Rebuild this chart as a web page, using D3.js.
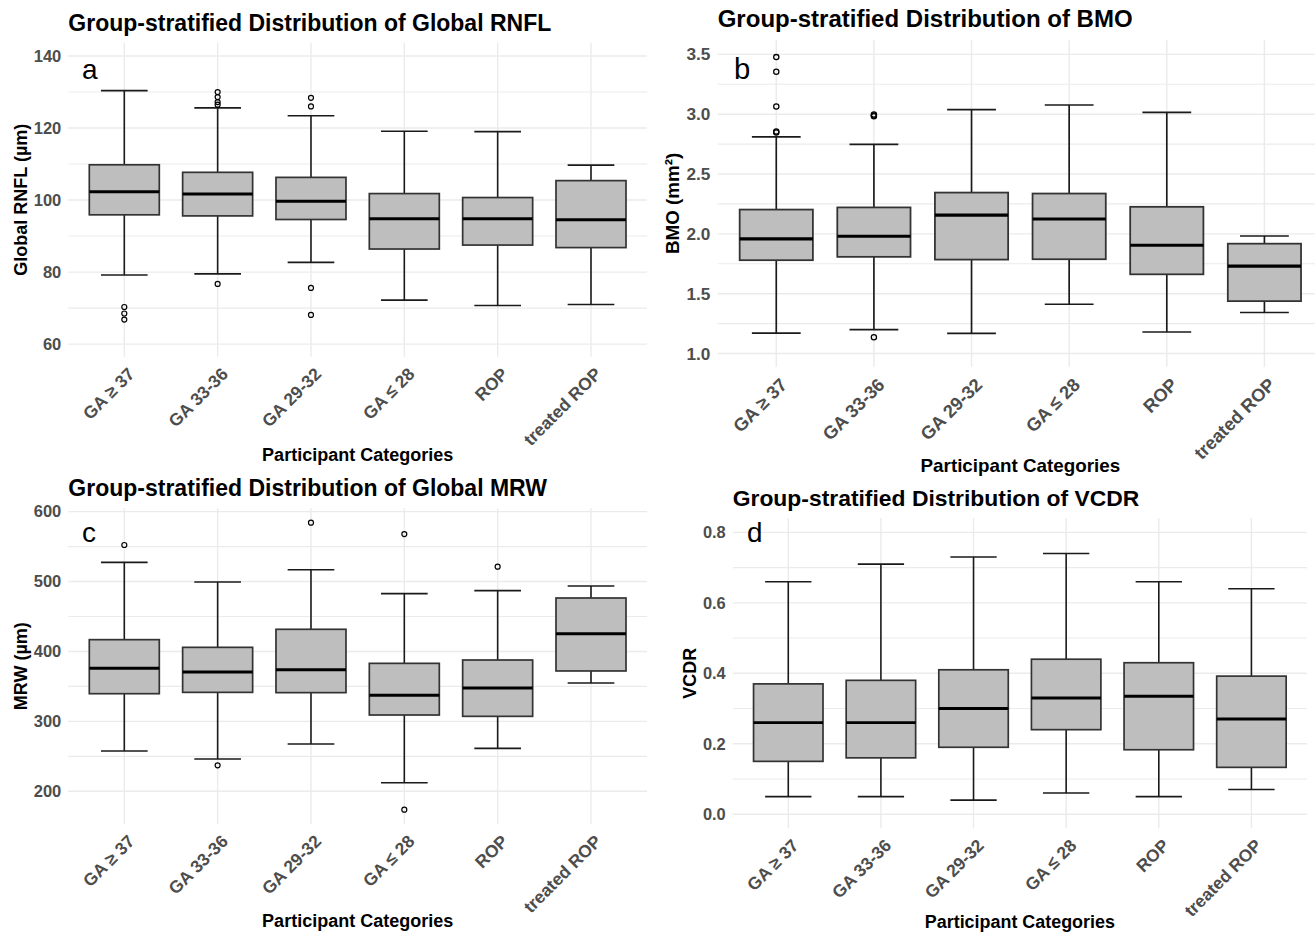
<!DOCTYPE html>
<html lang="en">
<head>
<meta charset="UTF-8" />
<title>Group-stratified Distributions</title>
<script src="https://d3js.org/d3.v7.min.js"></script>
<style>
  body { margin: 0; background: #fff; }
  svg text { font-family: "Liberation Sans", Arial, sans-serif; }
</style>
</head>
<body>
<div id="chart"></div>
<script>
var w = 1315;
var h = 932;

var categories = ["GA ≥ 37", "GA 33-36", "GA 29-32", "GA ≤ 28", "ROP", "treated ROP"];

// a: Global RNFL (µm)
var rnflLow = [79.2, 79.5, 82.7, 72.2, 70.7, 71.0];
var rnflQ1 = [95.9, 95.6, 94.6, 86.4, 87.5, 86.8];
var rnflMedian = [102.3, 101.7, 99.7, 94.8, 94.8, 94.5];
var rnflQ3 = [109.8, 107.7, 106.3, 101.8, 100.7, 105.4];
var rnflHigh = [130.4, 125.6, 123.4, 119.1, 119.0, 109.7];
var rnflOutliers = [[70.3, 68.5, 66.8], [130.0, 128.6, 127.2, 126.5, 76.7], [128.4, 126.0, 75.6, 68.1], [], [], []];
var rnflTicks = [60, 80, 100, 120, 140];
var rnflMinor = [70, 90, 110, 130];

// b: BMO (mm²)
var bmoLow = [1.170, 1.200, 1.168, 1.412, 1.180, 1.343];
var bmoQ1 = [1.780, 1.808, 1.785, 1.788, 1.662, 1.438];
var bmoMedian = [1.958, 1.980, 2.157, 2.124, 1.905, 1.730];
var bmoQ3 = [2.203, 2.221, 2.345, 2.337, 2.226, 1.918];
var bmoHigh = [2.811, 2.748, 3.038, 3.077, 3.015, 1.982];
var bmoOutliers = [[3.477, 3.355, 3.064, 2.855, 2.848], [2.998, 2.990, 2.982, 1.137], [], [], [], []];
var bmoTicks = [1.0, 1.5, 2.0, 2.5, 3.0, 3.5];
var bmoMinor = [1.25, 1.75, 2.25, 2.75, 3.25];

// c: Global MRW (µm)
var mrwLow = [257.6, 246.2, 267.6, 212.3, 261.4, 354.9];
var mrwQ1 = [339.6, 341.5, 341.1, 309.1, 307.2, 372.1];
var mrwMedian = [375.9, 370.6, 374.0, 337.2, 347.7, 425.5];
var mrwQ3 = [416.9, 405.9, 431.7, 383.0, 387.8, 476.5];
var mrwHigh = [527.5, 499.4, 517.0, 482.7, 487.0, 493.7];
var mrwOutliers = [[552.3], [237.1], [584.3], [568.0, 173.7], [521.3], []];
var mrwTicks = [200, 300, 400, 500, 600];
var mrwMinor = [250, 350, 450, 550];

// d: VCDR
var vcdrLow = [0.05, 0.05, 0.04, 0.06, 0.05, 0.07];
var vcdrQ1 = [0.15, 0.16, 0.19, 0.24, 0.183, 0.133];
var vcdrMedian = [0.26, 0.26, 0.30, 0.33, 0.335, 0.27];
var vcdrQ3 = [0.37, 0.38, 0.41, 0.44, 0.43, 0.392];
var vcdrHigh = [0.66, 0.71, 0.73, 0.74, 0.66, 0.64];
var vcdrOutliers = [[], [], [], [], [], []];
var vcdrTicks = [0.0, 0.2, 0.4, 0.6, 0.8];
var vcdrMinor = [0.1, 0.3, 0.5, 0.7];

var panels = [
    { letter: "a", title: "Group-stratified Distribution of Global RNFL", yTitle: "Global RNFL (µm)",
      low: rnflLow, q1: rnflQ1, med: rnflMedian, q3: rnflQ3, high: rnflHigh, out: rnflOutliers,
      ticks: rnflTicks, minor: rnflMinor, fmt: d3.format("d"), domain: [56.5, 143.7],
      left: 68.3, right: 647, top: 42.7, bottom: 356.7, s: 1, lx: 82, ly: 78.7, xty: 461 },
    { letter: "b", title: "Group-stratified Distribution of BMO", yTitle: "BMO (mm²)",
      low: bmoLow, q1: bmoQ1, med: bmoMedian, q3: bmoQ3, high: bmoHigh, out: bmoOutliers,
      ticks: bmoTicks, minor: bmoMinor, fmt: d3.format(".1f"), domain: [0.89, 3.62],
      left: 717.7, right: 1323, top: 40, bottom: 366.7, s: 1.045, lx: 734, ly: 79, xty: 472 },
    { letter: "c", title: "Group-stratified Distribution of Global MRW", yTitle: "MRW (µm)",
      low: mrwLow, q1: mrwQ1, med: mrwMedian, q3: mrwQ3, high: mrwHigh, out: mrwOutliers,
      ticks: mrwTicks, minor: mrwMinor, fmt: d3.format("d"), domain: [153.2, 604.8],
      left: 68.3, right: 647, top: 508.3, bottom: 824, s: 1, lx: 82, ly: 541.7, xty: 927 },
    { letter: "d", title: "Group-stratified Distribution of VCDR", yTitle: "VCDR",
      low: vcdrLow, q1: vcdrQ1, med: vcdrMedian, q3: vcdrQ3, high: vcdrHigh, out: vcdrOutliers,
      ticks: vcdrTicks, minor: vcdrMinor, fmt: d3.format(".1f"), domain: [-0.04, 0.84],
      left: 732.7, right: 1307, top: 518.3, bottom: 828.3, s: 0.995, lx: 747, ly: 541.7, xty: 928 }
];

var svg = d3.select("#chart")
    .append("svg")
    .attr("width", w)
    .attr("height", h)
    .style("display", "block");

svg.append("rect").attr("width", w).attr("height", h).attr("fill", "#fff");

function drawPanel(p) {
    var s = p.s;
    var g = svg.append("g");

    var y = d3.scaleLinear().domain(p.domain).range([p.bottom, p.top]);
    var x = d3.scalePoint().domain(categories).range([p.left, p.right]).padding(0.6);
    var step = x.step();

    // grid
    g.selectAll(".minor").data(p.minor).enter().append("line")
        .attr("x1", p.left).attr("x2", p.right)
        .attr("y1", function (d) { return y(d); }).attr("y2", function (d) { return y(d); })
        .attr("stroke", "#ebebeb").attr("stroke-width", 1.1 * s);
    g.selectAll(".major").data(p.ticks).enter().append("line")
        .attr("x1", p.left).attr("x2", p.right)
        .attr("y1", function (d) { return y(d); }).attr("y2", function (d) { return y(d); })
        .attr("stroke", "#ebebeb").attr("stroke-width", 1.4 * s);
    g.selectAll(".vgrid").data(categories).enter().append("line")
        .attr("x1", function (d) { return x(d); }).attr("x2", function (d) { return x(d); })
        .attr("y1", p.top).attr("y2", p.bottom)
        .attr("stroke", "#ebebeb").attr("stroke-width", 1.4 * s);

    // y axis labels
    var yAxis = g.append("g")
        .attr("transform", "translate(" + p.left + ",0)")
        .call(d3.axisLeft(y).tickValues(p.ticks).tickFormat(p.fmt).tickSize(0).tickPadding(7 * s));
    yAxis.select(".domain").remove();
    yAxis.attr("font-size", null).attr("font-family", null);
    yAxis.selectAll("text")
        .style("font-size", (16.5 * s) + "px")
        .style("font-weight", "bold")
        .attr("fill", "#4d4d4d");

    // x axis labels
    var xAxis = g.append("g")
        .attr("transform", "translate(0," + p.bottom + ")")
        .call(d3.axisBottom(x).tickSize(0));
    xAxis.select(".domain").remove();
    xAxis.attr("font-size", null).attr("font-family", null);
    xAxis.selectAll("text")
        .attr("y", null)
        .attr("dy", "0.72em")
        .attr("text-anchor", "end")
        .attr("transform", "translate(" + (2 * s) + "," + (9.5 * s) + ") rotate(-45)")
        .style("font-size", (17.5 * s) + "px")
        .style("font-weight", "bold")
        .attr("fill", "#4d4d4d");

    // boxes
    var idx = d3.range(categories.length);
    var boxes = g.selectAll(".box").data(idx).enter().append("g");
    var lineCol = "#1a1a1a";

    boxes.append("line")
        .attr("x1", function (i) { return x(categories[i]); })
        .attr("x2", function (i) { return x(categories[i]); })
        .attr("y1", function (i) { return y(p.low[i]); })
        .attr("y2", function (i) { return y(p.high[i]); })
        .attr("stroke", lineCol).attr("stroke-width", 1.6 * s);
    [p.low, p.high].forEach(function (arr) {
        boxes.append("line")
            .attr("x1", function (i) { return x(categories[i]) - step * 0.25; })
            .attr("x2", function (i) { return x(categories[i]) + step * 0.25; })
            .attr("y1", function (i) { return y(arr[i]); })
            .attr("y2", function (i) { return y(arr[i]); })
            .attr("stroke", lineCol).attr("stroke-width", 1.6 * s);
    });
    boxes.append("rect")
        .attr("x", function (i) { return x(categories[i]) - step * 0.375; })
        .attr("width", step * 0.75)
        .attr("y", function (i) { return y(p.q3[i]); })
        .attr("height", function (i) { return y(p.q1[i]) - y(p.q3[i]); })
        .attr("fill", "#bebebe")
        .attr("stroke", "#333333").attr("stroke-width", 1.7 * s);
    boxes.append("line")
        .attr("x1", function (i) { return x(categories[i]) - step * 0.375; })
        .attr("x2", function (i) { return x(categories[i]) + step * 0.375; })
        .attr("y1", function (i) { return y(p.med[i]); })
        .attr("y2", function (i) { return y(p.med[i]); })
        .attr("stroke", "#000").attr("stroke-width", 3 * s);

    boxes.each(function (i) {
        d3.select(this).selectAll("circle").data(p.out[i]).enter().append("circle")
            .attr("cx", x(categories[i]))
            .attr("cy", function (d) { return y(d); })
            .attr("r", 2.5 * s)
            .attr("fill", "none")
            .attr("stroke", "#000").attr("stroke-width", 1.2 * s);
    });

    // texts
    g.append("text")
        .attr("x", p.left).attr("y", p.top - 12 * s)
        .style("font-size", (23 * s) + "px").style("font-weight", "bold")
        .attr("fill", "#000")
        .text(p.title);

    g.append("text")
        .attr("x", p.lx).attr("y", p.ly)
        .style("font-size", (28 * s) + "px")
        .attr("fill", "#000")
        .text(p.letter);

    g.append("text")
        .attr("x", (p.left + p.right) / 2).attr("y", p.xty)
        .attr("text-anchor", "middle")
        .style("font-size", (18 * s) + "px").style("font-weight", "bold")
        .attr("fill", "#000")
        .text("Participant Categories");

    var bb = yAxis.node().getBBox();
    var tx = p.left + bb.x - 7 * s;
    var cy = (p.top + p.bottom) / 2;
    g.append("text")
        .attr("transform", "translate(" + tx + "," + cy + ") rotate(-90)")
        .attr("text-anchor", "middle")
        .style("font-size", (18 * s) + "px").style("font-weight", "bold")
        .attr("fill", "#000")
        .text(p.yTitle);
}

panels.forEach(drawPanel);
</script>
</body>
</html>
